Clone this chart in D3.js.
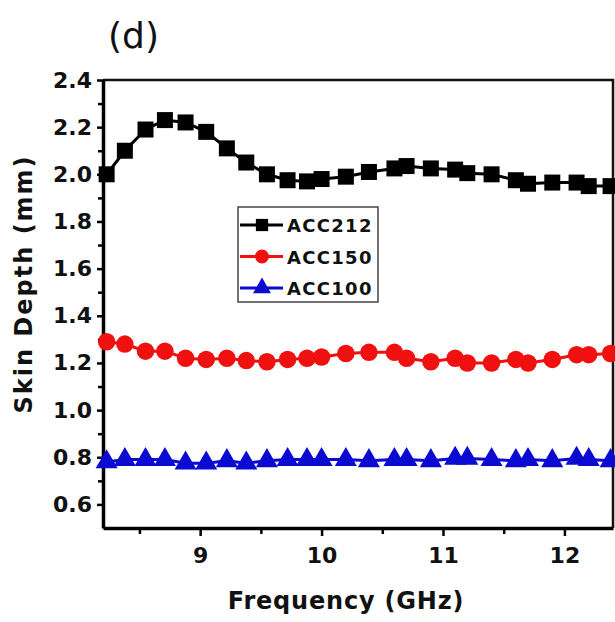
<!DOCTYPE html>
<html>
<head>
<meta charset="utf-8">
<script src="https://cdn.jsdelivr.net/npm/d3@7"></script>
<style>
  body { margin: 0; background: white; }
  text { font-family: 'DejaVu Sans', Arial, sans-serif; }
</style>
</head>
<body>
<div id="chart"></div>
<script>
// frequency grid (GHz), shared by all three samples
const freqs = [8.23, 8.38, 8.55, 8.71, 8.88, 9.05, 9.22, 9.38, 9.55, 9.72, 9.88, 10.0, 10.2,
    10.39, 10.6, 10.7, 10.9, 11.1, 11.2, 11.4, 11.6, 11.7, 11.9, 12.1, 12.2, 12.38]

const acc212 = [2.00, 2.10, 2.19, 2.23, 2.22, 2.18, 2.11, 2.05, 2.00, 1.975, 1.97, 1.98, 1.99,
    2.01, 2.025, 2.035, 2.025, 2.02, 2.005, 2.0, 1.975, 1.96, 1.965, 1.965, 1.95, 1.95]
const acc150 = [1.29, 1.28, 1.25, 1.25, 1.22, 1.215, 1.22, 1.21, 1.205, 1.215, 1.22, 1.225, 1.24,
    1.245, 1.245, 1.22, 1.205, 1.22, 1.20, 1.20, 1.215, 1.20, 1.215, 1.235, 1.235, 1.24]
const acc100 = [0.78, 0.79, 0.79, 0.79, 0.775, 0.775, 0.785, 0.775, 0.785, 0.79, 0.79, 0.79, 0.79,
    0.785, 0.79, 0.79, 0.785, 0.795, 0.795, 0.79, 0.785, 0.79, 0.785, 0.795, 0.79, 0.785]

const seriesNames = ['ACC212', 'ACC150', 'ACC100']
const seriesColors = ['#000000', '#f01010', '#0a0ad0']
const seriesShapes = [d3.symbolSquare, d3.symbolCircle, d3.symbolTriangle]

const xMajor = [9, 10, 11, 12]
const xMinor = [8.5, 9.5, 10.5, 11.5]
const yMajor = [0.6, 0.8, 1.0, 1.2, 1.4, 1.6, 1.8, 2.0, 2.2, 2.4]
const yMinor = [0.7, 0.9, 1.1, 1.3, 1.5, 1.7, 1.9, 2.1, 2.3]

const CONFIG = {
    width: 615,
    height: 622,
    plot: { left: 103, right: 613, top: 80, bottom: 528 }
}

const svg = d3.select('#chart')
    .append('svg')
    .attr('width', CONFIG.width)
    .attr('height', CONFIG.height)
    .style('background-color', 'white')

const x = d3.scaleLinear()
    .domain([8.2, 12.4])
    .range([CONFIG.plot.left, CONFIG.plot.right])

const y = d3.scaleLinear()
    .domain([0.5, 2.4])
    .range([CONFIG.plot.bottom, CONFIG.plot.top])

// frame (top + right)
svg.append('path')
    .attr('d', `M${CONFIG.plot.left},${CONFIG.plot.top}H${CONFIG.plot.right}V${CONFIG.plot.bottom}`)
    .attr('fill', 'none')
    .attr('stroke', '#111')
    .attr('stroke-width', 2.5)

// minor ticks
svg.append('g')
    .attr('transform', `translate(${CONFIG.plot.left},0)`)
    .call(d3.axisLeft(y).tickValues(yMinor).tickSize(5).tickFormat(''))
    .call(g => g.select('.domain').remove())
    .selectAll('line').attr('stroke-width', 2.5)

svg.append('g')
    .attr('transform', `translate(0,${CONFIG.plot.bottom})`)
    .call(d3.axisBottom(x).tickValues(xMinor).tickSize(6).tickFormat(''))
    .call(g => g.select('.domain').remove())
    .selectAll('line').attr('stroke-width', 2.5)

// major axes
const yAxis = svg.append('g')
    .attr('transform', `translate(${CONFIG.plot.left},0)`)
    .call(d3.axisLeft(y).tickValues(yMajor).tickSize(6).tickSizeOuter(0).tickPadding(5).tickFormat(d3.format('.1f')))

const xAxis = svg.append('g')
    .attr('transform', `translate(0,${CONFIG.plot.bottom})`)
    .call(d3.axisBottom(x).tickValues(xMajor).tickSize(8).tickSizeOuter(0).tickPadding(11).tickFormat(d3.format('d')))

for (const ax of [yAxis, xAxis]) {
    ax.select('.domain').attr('stroke-width', 3.5).attr('stroke', '#000')
    ax.selectAll('.tick line').attr('stroke-width', 2.5)
    ax.selectAll('.tick text')
        .attr('fill', '#111')
        .attr('font-size', '22px')
        .attr('font-weight', 'bold')
        .attr('font-family', "'DejaVu Sans', sans-serif")
}

// series
const series = seriesNames.map((name, i) => ({
    name,
    color: seriesColors[i],
    shape: seriesShapes[i],
    values: freqs.map((f, j) => ({ f, v: [acc212, acc150, acc100][i][j] }))
}))

const line = d3.line()
    .x(d => x(d.f))
    .y(d => y(d.v))

const markerSize = [256, 240, 210]

series.forEach((s, i) => {
    const g = svg.append('g').attr('class', 'series')
    g.append('path')
        .datum(s.values)
        .attr('d', line)
        .attr('fill', 'none')
        .attr('stroke', s.color)
        .attr('stroke-width', 3)
    g.selectAll('path.marker')
        .data(s.values)
        .enter()
        .append('path')
        .classed('marker', true)
        .attr('transform', d => `translate(${x(d.f)},${y(d.v)})`)
        .attr('d', d3.symbol().type(s.shape).size(markerSize[i]))
        .attr('fill', s.color)
})

// legend
const legend = svg.append('g')
    .attr('transform', 'translate(238,207)')

legend.append('rect')
    .attr('width', 140)
    .attr('height', 95)
    .attr('fill', 'white')
    .attr('stroke', '#444')
    .attr('stroke-width', 1.5)

const legendItem = legend.selectAll('g.item')
    .data(series)
    .enter()
    .append('g')
    .classed('item', true)
    .attr('transform', (d, i) => `translate(0, ${18 + i * 31.5})`)

legendItem.append('line')
    .attr('x1', 2)
    .attr('x2', 45)
    .attr('stroke', d => d.color)
    .attr('stroke-width', 3)

legendItem.append('path')
    .attr('transform', 'translate(24,0)')
    .attr('d', (d, i) => d3.symbol().type(d.shape).size([150, 150, 140][i])())
    .attr('fill', d => d.color)

legendItem.append('text')
    .attr('x', 49)
    .attr('y', 7)
    .attr('font-size', '18px')
    .attr('font-weight', 'bold')
    .attr('letter-spacing', '1.3px')
    .attr('fill', '#111')
    .text(d => d.name)

// titles
svg.append('text')
    .attr('x', 108)
    .attr('y', 48)
    .attr('font-size', '36px')
    .attr('fill', '#111')
    .text('(d)')

svg.append('text')
    .attr('x', (CONFIG.plot.left + CONFIG.plot.right) / 2 - 12)
    .attr('y', 609)
    .attr('text-anchor', 'middle')
    .attr('font-size', '24px')
    .attr('font-weight', 'bold')
    .attr('letter-spacing', '0.8px')
    .attr('fill', '#111')
    .text('Frequency (GHz)')

svg.append('text')
    .attr('transform', `translate(32, ${284}) rotate(-90)`)
    .attr('text-anchor', 'middle')
    .attr('font-size', '24px')
    .attr('font-weight', 'bold')
    .attr('letter-spacing', '2px')
    .attr('fill', '#111')
    .text('Skin Depth (mm)')
</script>
</body>
</html>
